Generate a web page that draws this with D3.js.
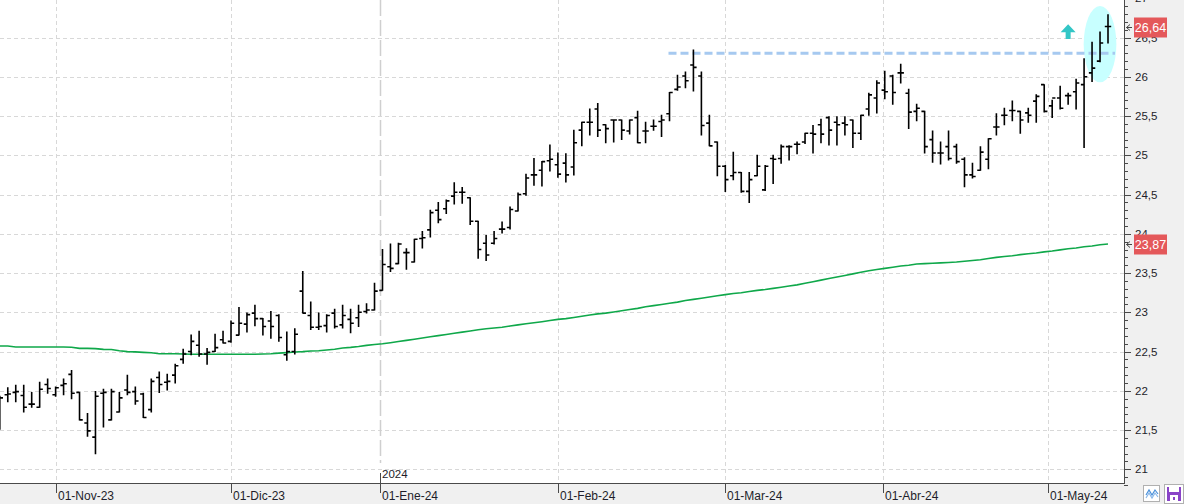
<!DOCTYPE html>
<html><head><meta charset="utf-8">
<script src="https://cdn.jsdelivr.net/npm/d3@7"></script>
<style>
html,body{margin:0;padding:0;background:#fff;overflow:hidden;}
svg{display:block;font-family:"Liberation Sans",Arial,sans-serif;}
</style></head><body>
<svg id="c" width="1184" height="504"></svg>
<script>
const dates = [
"2023-10-23","2023-10-24","2023-10-25","2023-10-26","2023-10-27","2023-10-30","2023-10-31",
"2023-11-01","2023-11-02","2023-11-03","2023-11-06","2023-11-07","2023-11-08","2023-11-09","2023-11-10","2023-11-13","2023-11-14","2023-11-15","2023-11-16","2023-11-17","2023-11-20","2023-11-21","2023-11-22","2023-11-23","2023-11-24","2023-11-27","2023-11-28","2023-11-29","2023-11-30",
"2023-12-01","2023-12-04","2023-12-05","2023-12-06","2023-12-07","2023-12-08","2023-12-11","2023-12-12","2023-12-13","2023-12-14","2023-12-15","2023-12-18","2023-12-19","2023-12-20","2023-12-21","2023-12-22","2023-12-27","2023-12-28","2023-12-29",
"2024-01-02","2024-01-03","2024-01-04","2024-01-05","2024-01-08","2024-01-09","2024-01-10","2024-01-11","2024-01-12","2024-01-15","2024-01-16","2024-01-17","2024-01-18","2024-01-19","2024-01-22","2024-01-23","2024-01-24","2024-01-25","2024-01-26","2024-01-29","2024-01-30","2024-01-31",
"2024-02-01","2024-02-02","2024-02-05","2024-02-06","2024-02-07","2024-02-08","2024-02-09","2024-02-12","2024-02-13","2024-02-14","2024-02-15","2024-02-16","2024-02-19","2024-02-20","2024-02-21","2024-02-22","2024-02-23","2024-02-26","2024-02-27","2024-02-28","2024-02-29",
"2024-03-01","2024-03-04","2024-03-05","2024-03-06","2024-03-07","2024-03-08","2024-03-11","2024-03-12","2024-03-13","2024-03-14","2024-03-15","2024-03-18","2024-03-19","2024-03-20","2024-03-21","2024-03-22","2024-03-25","2024-03-26","2024-03-27","2024-03-28",
"2024-04-02","2024-04-03","2024-04-04","2024-04-05","2024-04-08","2024-04-09","2024-04-10","2024-04-11","2024-04-12","2024-04-15","2024-04-16","2024-04-17","2024-04-18","2024-04-19","2024-04-22","2024-04-23","2024-04-24","2024-04-25","2024-04-26","2024-04-29","2024-04-30",
"2024-05-02","2024-05-03","2024-05-06","2024-05-07","2024-05-08","2024-05-09","2024-05-10","2024-05-13"];

const open = [
21.60,21.95,21.98,21.94,21.83,21.79,22.08,
21.95,22.07,22.21,21.98,21.59,21.41,21.97,21.63,21.73,22.01,21.99,21.96,21.76,22.17,22.11,22.20,22.40,22.50,22.58,22.47,22.50,22.65,
22.63,22.71,22.85,22.99,22.92,22.89,22.96,22.46,22.50,23.27,22.96,22.81,22.83,22.99,22.84,22.91,22.93,23.01,23.03,
23.28,23.58,23.62,23.76,23.64,23.94,24.05,24.30,24.32,24.48,24.53,24.46,24.16,23.88,23.88,24.06,24.08,24.29,24.51,24.75,24.81,24.93,
24.88,24.90,24.85,25.32,25.42,25.59,25.39,25.45,25.45,25.31,25.48,25.31,25.37,25.43,25.53,25.84,26.01,26.15,26.01,25.41,25.17,
24.86,24.74,24.78,24.54,24.74,24.56,24.96,24.96,25.11,25.14,25.17,25.28,25.39,25.48,25.42,25.41,25.45,25.28,25.59,25.73,
25.83,26.01,26.05,25.79,25.56,25.56,25.20,25.03,25.11,25.11,24.95,24.75,24.81,24.95,25.36,25.51,25.57,25.56,25.54,25.69,25.90,
25.63,25.73,25.76,25.81,25.90,26.05,26.20,26.64];

const high = [
21.93,22.04,22.07,22.07,21.98,22.11,22.15,
22.05,22.15,22.26,21.98,21.71,21.99,22.02,22.02,21.98,22.20,22.05,21.97,22.15,22.24,22.21,22.34,22.53,22.71,22.76,22.54,22.72,22.76,
22.89,23.06,22.99,23.09,22.92,23.01,22.97,22.75,22.79,23.52,23.13,22.99,22.97,23.04,23.09,23.04,23.09,23.11,23.37,
23.80,23.87,23.88,23.81,23.93,24.03,24.30,24.40,24.43,24.65,24.59,24.46,24.16,23.98,24.03,24.15,24.34,24.52,24.76,24.96,24.92,25.13,
25.03,25.02,25.32,25.42,25.59,25.66,25.39,25.45,25.45,25.45,25.56,25.42,25.45,25.51,25.80,26.02,26.06,26.34,26.06,25.51,25.17,
24.87,25.04,24.78,24.78,25.00,24.87,25.00,25.13,25.12,25.17,25.28,25.38,25.46,25.49,25.49,25.49,25.45,25.51,25.79,25.95,
26.07,26.02,26.16,25.84,25.65,25.56,25.31,25.17,25.31,25.14,24.97,24.90,25.11,25.21,25.53,25.60,25.69,25.56,25.60,25.77,25.90,
25.70,25.88,25.79,25.97,26.23,26.44,26.57,26.79];

const low = [
21.51,21.86,21.86,21.73,21.79,21.79,21.97,
21.93,21.95,21.90,21.63,21.42,21.20,21.54,21.63,21.73,21.95,21.83,21.66,21.73,21.98,22.01,22.10,22.35,22.46,22.44,22.34,22.50,22.61,
22.62,22.71,22.75,22.83,22.71,22.67,22.63,22.39,22.47,22.99,22.78,22.78,22.75,22.80,22.80,22.74,22.82,22.99,23.03,
23.28,23.52,23.62,23.55,23.64,23.82,23.96,24.14,24.26,24.38,24.39,24.12,23.69,23.66,23.87,24.01,24.06,24.29,24.49,24.62,24.61,24.80,
24.72,24.66,24.75,25.12,25.26,25.24,25.16,25.17,25.20,25.27,25.16,25.16,25.32,25.24,25.44,25.83,25.86,25.82,25.26,25.12,24.74,
24.54,24.69,24.53,24.40,24.74,24.55,24.64,24.90,24.94,25.02,25.15,25.03,25.16,25.13,25.13,25.26,25.10,25.20,25.51,25.54,
25.72,25.65,25.92,25.34,25.44,25.03,24.91,24.89,24.94,24.90,24.60,24.71,24.81,24.83,25.26,25.39,25.44,25.28,25.42,25.42,25.55,
25.48,25.59,25.65,25.59,25.10,25.94,26.19,26.43];

const close = [
21.91,21.96,21.99,21.79,21.83,22.02,22.03,
22.04,22.09,21.97,21.63,21.49,21.93,21.98,21.99,21.91,21.98,21.87,21.66,22.12,22.08,22.12,22.32,22.47,22.63,22.47,22.49,22.55,22.61,
22.86,22.86,22.97,22.92,22.82,22.82,22.68,22.50,22.72,22.99,22.81,22.82,22.96,22.82,22.96,22.86,23.00,23.03,23.27,
23.61,23.56,23.87,23.76,23.93,23.95,24.27,24.18,24.42,24.53,24.53,24.16,23.80,23.73,23.94,24.06,24.31,24.50,24.71,24.75,24.92,24.95,
24.76,24.75,25.16,25.42,25.42,25.32,25.34,25.45,25.32,25.45,25.16,25.31,25.37,25.45,25.80,25.87,25.95,26.12,25.38,25.12,24.86,
24.69,24.78,24.54,24.69,24.86,24.86,24.95,25.11,25.11,25.14,25.28,25.27,25.27,25.32,25.39,25.39,25.28,25.51,25.77,25.92,
25.81,25.80,26.05,25.55,25.60,25.11,25.03,25.03,24.96,24.92,24.75,24.73,25.04,25.21,25.36,25.51,25.57,25.45,25.51,25.75,25.56,
25.73,25.60,25.76,25.92,26.00,26.11,26.43,26.64];

const ma = [
22.571,22.571,22.558,22.558,22.558,22.558,22.558,
22.558,22.558,22.556,22.541,22.541,22.538,22.528,22.526,22.511,22.499,22.496,22.490,22.485,22.473,22.473,22.473,22.470,22.465,22.465,22.465,22.465,22.465,
22.465,22.465,22.465,22.466,22.470,22.473,22.480,22.486,22.495,22.499,22.507,22.511,22.520,22.530,22.546,22.554,22.565,22.579,22.590,
22.600,22.613,22.628,22.643,22.658,22.673,22.688,22.703,22.718,22.733,22.748,22.763,22.778,22.790,22.800,22.810,22.825,22.840,22.855,22.867,22.880,22.895,
22.910,22.920,22.935,22.950,22.965,22.980,22.990,23.005,23.020,23.035,23.050,23.070,23.085,23.100,23.115,23.130,23.150,23.165,23.180,23.195,23.210,
23.225,23.240,23.250,23.265,23.280,23.290,23.305,23.320,23.335,23.350,23.370,23.390,23.410,23.430,23.450,23.470,23.490,23.510,23.530,23.545,
23.560,23.575,23.590,23.600,23.615,23.620,23.625,23.630,23.635,23.640,23.650,23.660,23.670,23.685,23.700,23.710,23.720,23.735,23.745,23.755,23.770,
23.780,23.795,23.810,23.820,23.835,23.845,23.860,23.870];

const monthTicks  = ["2023-11-01","2023-12-01","2024-01-01","2024-02-01","2024-03-01","2024-04-01","2024-05-01"];
const monthLabels = ["01-Nov-23","01-Dic-23","01-Ene-24","01-Feb-24","01-Mar-24","01-Abr-24","01-May-24"];
const yearTick = "2024-01-01";
const yearLabel = "2024";
const yMajor = [21,21.5,22,22.5,23,23.5,24,24.5,25,25.5,26,26.5,27];
const resistanceLevel = 26.30;
const resistanceRange = ["2024-02-21","2024-05-13"];
const ellipseRange = ["2024-05-08","2024-05-13"];
const ellipseValues = [25.93, 26.90];
const arrowDate = "2024-05-06";
const arrowValues = [26.48, 26.67];

// ---------- layout ----------
const W = 1124, H = 483, FULLW = 1184, FULLH = 504;
const svg = d3.select("#c");
const loc = d3.formatLocale({decimal:",", thousands:".", grouping:[3], currency:["","€"]});
const fmt = loc.format(".2~f");

const parseD = d3.utcParse("%Y-%m-%d");
const dt = dates.map(parseD);
const dtNum = dt.map(Number);
function dateIndex(s){
  const t = +parseD(s);
  const j = d3.bisectLeft(dtNum, t);
  if (j < dtNum.length && dtNum[j] === t) return j;
  const a = dtNum[j-1], b = dtNum[j];
  return (j-1) + (t-a)/(b-a);
}

const x = d3.scaleLinear().domain([0, dates.length-1]).range([-0.2, 1108]);
const y = d3.scaleLinear().domain([20.826, 26.978]).range([H, 0]);

// backgrounds
svg.append("rect").attr("x",0).attr("y",0).attr("width",FULLW).attr("height",FULLH).attr("fill","#f0f0f0");
svg.append("rect").attr("x",0).attr("y",0).attr("width",W).attr("height",H).attr("fill","#ffffff");

const defs = svg.append("defs");
defs.append("clipPath").attr("id","plot").append("rect").attr("x",0).attr("y",0).attr("width",W).attr("height",H);
const g = svg.append("g").attr("clip-path","url(#plot)");

// horizontal grid
g.append("g").selectAll("line").data(yMajor).join("line")
  .attr("x1",0).attr("x2",W)
  .attr("y1",d=>Math.round(y(d))+0.5).attr("y2",d=>Math.round(y(d))+0.5)
  .attr("stroke","#d8d8d8").attr("stroke-width",1).attr("stroke-dasharray","4,3");

// vertical grid (month starts)
g.append("g").selectAll("line").data(monthTicks.filter(d=>d!==yearTick)).join("line")
  .attr("x1",d=>Math.round(x(dateIndex(d)))+0.5).attr("x2",d=>Math.round(x(dateIndex(d)))+0.5)
  .attr("y1",0).attr("y2",H)
  .attr("stroke","#d8d8d8").attr("stroke-width",1).attr("stroke-dasharray","4,3");
// year line
const yx = Math.round(x(dateIndex(yearTick)))+0.5;
g.append("line").attr("x1",yx).attr("x2",yx).attr("y1",0).attr("y2",H-20)
  .attr("stroke","#cfcfcf").attr("stroke-width",1.5).attr("stroke-dasharray","16,4");

// ellipse highlight
const e0 = x(dateIndex(ellipseRange[0])-0.05), e1 = x(dateIndex(ellipseRange[1])+1.05);
g.append("ellipse")
  .attr("cx",(e0+e1)/2).attr("cy",(y(ellipseValues[0])+y(ellipseValues[1]))/2)
  .attr("rx",(e1-e0)/2).attr("ry",(y(ellipseValues[0])-y(ellipseValues[1]))/2)
  .attr("fill","#c8ffff");

// resistance dashed line
g.append("line")
  .attr("x1",x(dateIndex(resistanceRange[0]))-1).attr("x2",x(dateIndex(resistanceRange[1]))+7)
  .attr("y1",y(resistanceLevel)).attr("y2",y(resistanceLevel))
  .attr("stroke","#a6c9f0").attr("stroke-width",3).attr("stroke-dasharray","8,4");

// moving average
g.append("path").datum(ma)
  .attr("d", d3.line().x((d,i)=>x(i)).y(d=>y(d)))
  .attr("fill","none").attr("stroke","#0fa84a").attr("stroke-width",1.6);

// OHLC bars
const bars = g.append("g").attr("stroke","#000").attr("stroke-width",1.6).attr("fill","none");
bars.selectAll("path").data(dates).join("path")
  .attr("d",(d,i)=>{
    const cx = x(i);
    return `M${cx},${y(high[i])-0.5}V${y(low[i])+0.5}`+
           `M${cx-3.2},${y(open[i])}H${cx}`+
           `M${cx},${y(close[i])}H${cx+3.2}`;
  });

// cyan up arrow
const ax = x(dateIndex(arrowDate)), aTop = y(arrowValues[1]), aBot = y(arrowValues[0]);
g.append("path")
  .attr("d",`M${ax},${aTop}L${ax+7.5},${aTop+8}L${ax+2.5},${aTop+8}L${ax+2.5},${aBot}L${ax-2.5},${aBot}L${ax-2.5},${aTop+8}L${ax-7.5},${aTop+8}Z`)
  .attr("fill","#33c6c6");

// axis lines
svg.append("line").attr("x1",W+0.5).attr("x2",W+0.5).attr("y1",0).attr("y2",H)
  .attr("stroke","#4a4a4a").attr("stroke-width",1);
svg.append("line").attr("x1",0).attr("x2",W+1).attr("y1",H+0.5).attr("y2",H+0.5)
  .attr("stroke","#4a4a4a").attr("stroke-width",1);

// y axis ticks
const minor = d3.range(208, 271).map(d=>d/10);
svg.append("g").selectAll("line").data(minor).join("line")
  .attr("x1",W).attr("x2",d=> (Math.abs(d*2-Math.round(d*2))<1e-6) ? W+7 : W+4)
  .attr("y1",d=>Math.round(y(d))+0.5).attr("y2",d=>Math.round(y(d))+0.5)
  .attr("stroke","#4a4a4a").attr("stroke-width",1);
svg.append("g").selectAll("text").data(yMajor).join("text")
  .attr("x",W+11).attr("y",d=>y(d)+4)
  .attr("font-size",11.5).attr("fill","#1e1e2a")
  .text(d=>fmt(d));

// value markers
function marker(v, txt){
  const yy = Math.round(y(v))+0.5;
  svg.append("path").attr("d",`M${W+6},${yy-3}L${W+2.5},${yy}L${W+6},${yy+3}M${W+2.5},${yy}H${W+8}`)
    .attr("stroke","#444").attr("fill","none").attr("stroke-width",1);
  svg.append("rect").attr("x",W+10).attr("y",yy-10).attr("width",33).attr("height",20).attr("fill","#e4585a");
  svg.append("text").attr("x",W+26.5).attr("y",yy+4.5).attr("text-anchor","middle")
    .attr("font-size",12.5).attr("fill","#ffffff").text(txt);
}
marker(close[close.length-1], fmt(close[close.length-1]));
marker(ma[ma.length-1], fmt(ma[ma.length-1]));

// x axis ticks and labels
const xa = svg.append("g");
monthTicks.forEach((d,k)=>{
  const px = Math.round(x(dateIndex(d)))+0.5;
  xa.append("line").attr("x1",px).attr("x2",px).attr("y1",H).attr("y2",H+10)
    .attr("stroke","#4a4a4a").attr("stroke-width",1);
  xa.append("text").attr("x",px+1.5).attr("y",H+17).attr("font-size",12).attr("fill","#1e1e2a").text(monthLabels[k]);
});
// year marker
xa.append("line").attr("x1",yx).attr("x2",yx).attr("y1",H-10).attr("y2",H)
  .attr("stroke","#4a4a4a").attr("stroke-width",1);
svg.append("text").attr("x",yx+1.5).attr("y",H-5).attr("font-size",11.5).attr("fill","#1e1e2a").text(yearLabel);

// bottom-right icons
const ic = svg.append("g");
ic.append("rect").attr("x",1143.5).attr("y",485.5).attr("width",16).attr("height",16).attr("fill","#fff").attr("stroke","#b0b0b0");
ic.append("path").attr("d","M1146,495 L1149,490 L1152,495 L1155,490 L1158,494").attr("fill","none").attr("stroke","#4a90d9").attr("stroke-width",1.2);
ic.append("path").attr("d","M1146,498 L1149,493 L1152,498 L1155,493 L1158,497").attr("fill","none").attr("stroke","#8ab8ea").attr("stroke-width",1.2);
ic.append("rect").attr("x",1164.5).attr("y",484.5).attr("width",19).attr("height",19).attr("fill","#fff").attr("stroke","#b0b0b0");
ic.append("rect").attr("x",1167).attr("y",487).attr("width",14).attr("height",14).attr("fill","#8a44c8");
ic.append("rect").attr("x",1169).attr("y",487).attr("width",10).attr("height",5).attr("fill","#fff");
ic.append("rect").attr("x",1170).attr("y",495).attr("width",8).attr("height",6).attr("fill","#fff");
ic.append("rect").attr("x",1173).attr("y",497).attr("width",2).attr("height",3).attr("fill","#8a44c8");
</script>
</body></html>
